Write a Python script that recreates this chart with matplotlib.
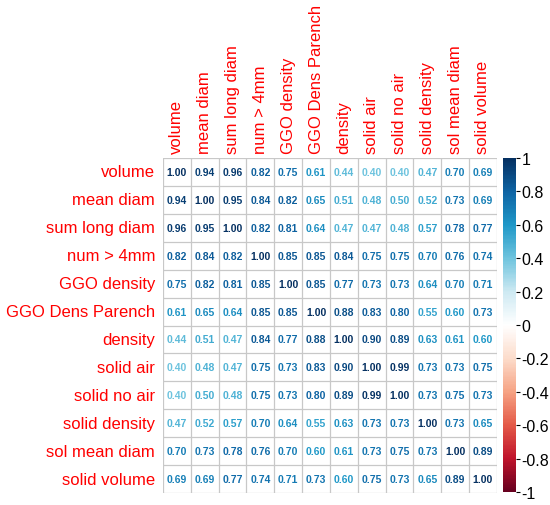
import numpy as np
import matplotlib
matplotlib.use("Agg")
import matplotlib.pyplot as plt
from matplotlib.colors import LinearSegmentedColormap, Normalize
from matplotlib.cm import ScalarMappable

# variables and correlation values
labels = ["volume", "mean diam", "sum long diam", "num > 4mm", "GGO density",
          "GGO Dens Parench", "density", "solid air", "solid no air",
          "solid density", "sol mean diam", "solid volume"]

corr = np.array([
    [1.00, 0.94, 0.96, 0.82, 0.75, 0.61, 0.44, 0.40, 0.40, 0.47, 0.70, 0.69],
    [0.94, 1.00, 0.95, 0.84, 0.82, 0.65, 0.51, 0.48, 0.50, 0.52, 0.73, 0.69],
    [0.96, 0.95, 1.00, 0.82, 0.81, 0.64, 0.47, 0.47, 0.48, 0.57, 0.78, 0.77],
    [0.82, 0.84, 0.82, 1.00, 0.85, 0.85, 0.84, 0.75, 0.75, 0.70, 0.76, 0.74],
    [0.75, 0.82, 0.81, 0.85, 1.00, 0.85, 0.77, 0.73, 0.73, 0.64, 0.70, 0.71],
    [0.61, 0.65, 0.64, 0.85, 0.85, 1.00, 0.88, 0.83, 0.80, 0.55, 0.60, 0.73],
    [0.44, 0.51, 0.47, 0.84, 0.77, 0.88, 1.00, 0.90, 0.89, 0.63, 0.61, 0.60],
    [0.40, 0.48, 0.47, 0.75, 0.73, 0.83, 0.90, 1.00, 0.99, 0.73, 0.73, 0.75],
    [0.40, 0.50, 0.48, 0.75, 0.73, 0.80, 0.89, 0.99, 1.00, 0.73, 0.75, 0.73],
    [0.47, 0.52, 0.57, 0.70, 0.64, 0.55, 0.63, 0.73, 0.73, 1.00, 0.73, 0.65],
    [0.70, 0.73, 0.78, 0.76, 0.70, 0.60, 0.61, 0.73, 0.75, 0.73, 1.00, 0.89],
    [0.69, 0.69, 0.77, 0.74, 0.71, 0.73, 0.60, 0.75, 0.73, 0.65, 0.89, 1.00],
])

cbar_ticks = [-1, -0.8, -0.6, -0.4, -0.2, 0, 0.2, 0.4, 0.6, 0.8, 1]
cbar_labels = ["-1", "-0.8", "-0.6", "-0.4", "-0.2", "0", "0.2", "0.4", "0.6", "0.8", "1"]

# red-white-blue palette, blue side a bit more cyan like the picture
cmap = LinearSegmentedColormap.from_list("corr", [
    "#67001F", "#C0142C", "#E45A48", "#F6A384", "#FCDCCB", "#FFFFFF",
    "#CDE9F2", "#6FC4DE", "#1F98C8", "#0E64A4", "#053061"])
norm = Normalize(-1, 1)

plt.rcParams["font.family"] = ["Liberation Sans", "DejaVu Sans"]

fig = plt.figure(figsize=(5.5, 5.06), dpi=100)
ax = fig.add_axes([0.2964, 0.0237, 0.607, 0.662])

n = len(labels)
for i in range(n):
    for j in range(n):
        v = corr[i, j]
        ax.text(j, i, f"{v:.2f}", ha="center", va="center",
                fontsize=7.5, fontweight="bold", color=cmap(norm(v)))

# grid lines
for k in range(n + 1):
    ax.axhline(k - 0.5, color="#C8C8C8", lw=0.9)
    ax.axvline(k - 0.5, color="#C8C8C8", lw=0.9)

ax.set_xlim(-0.5, n - 0.5)
ax.set_ylim(n - 0.5, -0.5)
for s in ax.spines.values():
    s.set_visible(False)
ax.set_xticks([])
ax.set_yticks([])

# labels
for k, lab in enumerate(labels):
    ax.text(-0.78, k, lab, ha="right", va="center", color="red", fontsize=12)
    ax.text(k, -0.68, lab, ha="center", va="bottom", rotation=90,
            color="red", fontsize=12)

# colour legend
cax = fig.add_axes([0.9145, 0.0257, 0.0236, 0.660])
cb = fig.colorbar(ScalarMappable(norm=norm, cmap=cmap), cax=cax)
cb.outline.set_visible(False)
cb.set_ticks(cbar_ticks)
cb.set_ticklabels(cbar_labels)
cax.tick_params(labelsize=11.5, length=3, width=0.8, pad=1)

fig.savefig("out.png", dpi=100)
